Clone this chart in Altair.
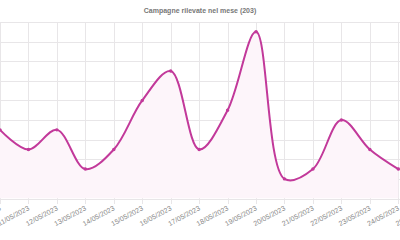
import altair as alt
import pandas as pd

days = [10, 11, 12, 13, 14, 15, 16, 17, 18, 19, 20, 21, 22, 23, 24]
counts = [7, 5, 7, 3, 5, 10, 13, 5, 9, 17, 2, 3, 8, 5, 3]
tick_days = list(range(1, 32))
y_ticks = list(range(0, 19, 2))

df = pd.DataFrame({"day": days, "count": counts})

LINE = "#c2399a"
GRID = "#e8e6e8"
STEP = 28.45
x_scale = alt.Scale(domain=[1, 31], range=[-9 * STEP, 21 * STEP], nice=False, zero=False)
y_scale = alt.Scale(domain=[0, 18], nice=False)

x_axis = alt.Axis(
    title=None, values=tick_days,
    labelExpr="(datum.value < 10 ? '0' : '') + datum.value + '/05/2023'",
    labelAngle=-28, labelAlign="right", labelBaseline="middle",
    labelFont="Liberation Sans", labelFontSize=7, labelColor="#888888",
    labelPadding=4, tickSize=5, tickColor=GRID, domain=False,
    grid=True, gridColor=GRID, labelOverlap=False, labelBound=False, labelFlush=False,
)
y_axis = alt.Axis(
    title=None, values=y_ticks, labels=False, ticks=False, domain=False,
    grid=True, gridColor=GRID,
)

base = alt.Chart(df).encode(
    x=alt.X("day:Q", scale=x_scale, axis=x_axis),
    y=alt.Y("count:Q", scale=y_scale, axis=y_axis),
)

area = base.mark_area(interpolate="catmull-rom", color="#fdf5fa", clip=True)
line = base.mark_line(interpolate="catmull-rom", color=LINE, strokeWidth=2, clip=True)
pts = base.mark_point(filled=True, size=12, color=LINE, opacity=1, clip=True)

chart = (area + line + pts).properties(
    width=400, height=176.5,
    title=alt.TitleParams(
        "Campagne rilevate nel mese (203)", font="Liberation Sans", fontSize=7,
        fontWeight="bold", color="#777777", anchor="middle", offset=8,
    ),
    autosize=alt.AutoSizeParams(type="none"),
    padding={"left": 0, "top": 22, "right": 0, "bottom": 41.5},
).configure_view(stroke=None)

chart.save("out.html", embed_options={"renderer": "svg", "actions": False})
